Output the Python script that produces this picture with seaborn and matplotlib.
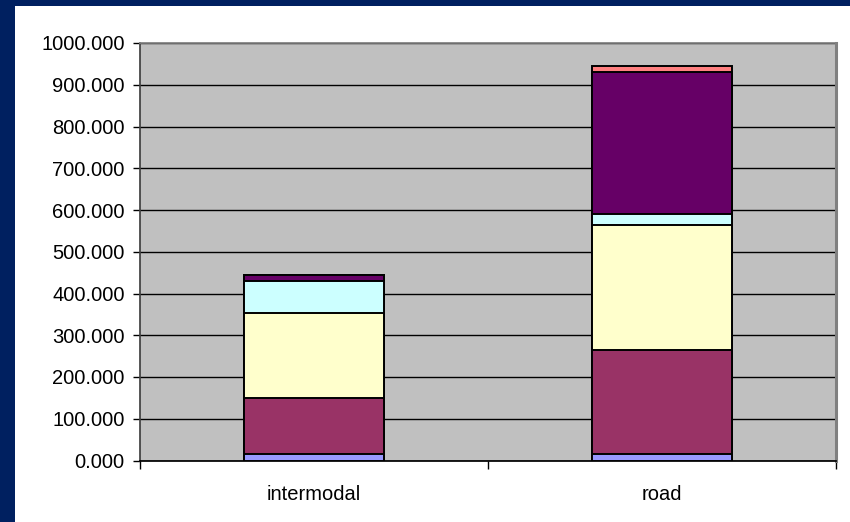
import numpy as np
import pandas as pd
import seaborn as sns
import matplotlib.pyplot as plt
from matplotlib.patches import Rectangle
from matplotlib.ticker import FormatStrFormatter

# Data (stack order bottom -> top)
categories = ["intermodal", "road"]
layer_1 = [15, 15]
layer_2 = [134, 250]
layer_3 = [205, 298]
layer_4 = [76, 28]
layer_5 = [15, 339]
layer_6 = [0, 16]
layer_colors = ["#9999FF", "#993366", "#FFFFCC", "#CCFFFF", "#660066", "#FF8080"]
y_ticks = list(range(0, 1001, 100))

layers = [layer_1, layer_2, layer_3, layer_4, layer_5, layer_6]
df = pd.DataFrame({"category": categories})
for i, vals in enumerate(layers):
    df[f"layer_{i + 1}"] = vals
cum = df[[f"layer_{i + 1}" for i in range(len(layers))]].cumsum(axis=1)

sns.set_theme(style="white")
plt.rcParams["font.family"] = ["Liberation Sans", "DejaVu Sans"]

fig = plt.figure(figsize=(8.5, 5.22), dpi=100)
fig.patch.set_facecolor("#002060")
# white chart panel inside the navy frame
fig.patches.append(Rectangle((15 / 850, 0), 1, 516 / 522, transform=fig.transFigure,
                             facecolor="white", edgecolor="none", zorder=-10))

ax = fig.add_axes([140 / 850, 61.5 / 522, 696 / 850, 417.5 / 522])
ax.set_facecolor("#C0C0C0")

# draw cumulative totals from the top down so lower layers sit on top
for i in reversed(range(len(layers))):
    col = f"layer_{i + 1}"
    plot_df = pd.DataFrame({"category": categories, "value": cum[col]})
    sns.barplot(data=plot_df, x="category", y="value", color=layer_colors[i],
                width=0.405, edgecolor="black", linewidth=1.4, saturation=1,
                ax=ax, zorder=3)

ax.set_ylim(0, 1000)
ax.set_xlim(-0.5, 1.5)
ax.set_yticks(y_ticks)
ax.yaxis.set_major_formatter(FormatStrFormatter("%.3f"))
ax.yaxis.grid(True, color="black", linewidth=1)
ax.set_axisbelow(True)
ax.set_xlabel("")
ax.set_ylabel("")

ax.tick_params(axis="y", left=True, length=5, width=1, color="black",
               labelsize=14.5, pad=6, labelcolor="black")
ax.tick_params(axis="x", bottom=False, labelsize=14.5, pad=12, labelcolor="black")
ax.set_xticks([-0.5, 0.5, 1.5], minor=True)
ax.tick_params(axis="x", which="minor", bottom=True, length=6, width=1, color="black")

ax.spines["left"].set_color("#404040")
ax.spines["bottom"].set_color("black")
ax.spines["top"].set_color("#808080")
ax.spines["right"].set_color("#808080")
ax.spines["right"].set_linewidth(2.2)
for s in ax.spines.values():
    s.set_visible(True)

fig.savefig("out.png", dpi=100, facecolor=fig.get_facecolor())
